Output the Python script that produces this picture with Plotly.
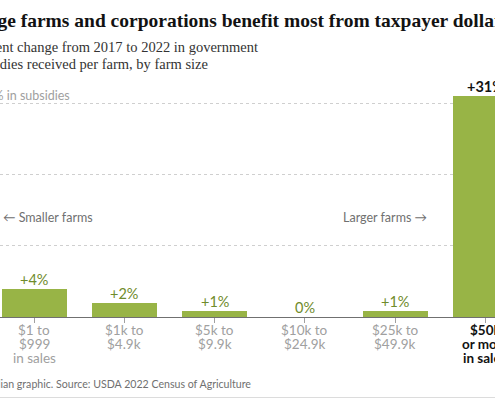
import plotly.graph_objects as go

# farm size groups (sales), change in subsidies per farm 2017 -> 2022 (%)
size_lines = [
    ["$1 to", "$999", "in sales"],
    ["$1k to", "$4.9k"],
    ["$5k to", "$9.9k"],
    ["$10k to", "$24.9k"],
    ["$25k to", "$49.9k"],
    ["$50k", "or more", "in sales"],
]
pct_change = [3.9, 1.9, 0.9, 0.0, 0.9, 31.0]
pct_labels = ["+4%", "+2%", "+1%", "0%", "+1%", "+31%"]
grid_vals = [10, 20, 30]

W, H = 495, 400
ML, MR, MT, MB = 0, 0, 85, 83
PH = H - MT - MB

GREEN = "#98b446"
GREEN_TXT = "#6f8b2b"
SANS = "Lato"
SERIF = "Liberation Serif"


def px(x):
    return (x - ML) / (W - ML - MR)


def py(y):
    return (H - MB - y) / PH


xs = list(range(len(pct_change)))

fig = go.Figure()
fig.add_trace(go.Bar(x=xs, y=pct_change, width=0.72, marker=dict(color=GREEN, line=dict(width=0)),
                     hoverinfo="skip", showlegend=False))

ann = []
# bar value labels
for i, (v, t) in enumerate(zip(pct_change, pct_labels)):
    last = i == len(pct_change) - 1
    ann.append(dict(x=i, y=v, xref="x", yref="y", text=("<b>%s</b>" % t) if last else t,
                    showarrow=False, yanchor="bottom", yshift=-1,
                    font=dict(family=SANS, size=14.5, color="#121212" if last else GREEN_TXT)))

# category labels under the axis
for i, lines in enumerate(size_lines):
    last = i == len(size_lines) - 1
    for j, line in enumerate(lines):
        ann.append(dict(x=i, y=py(330 + 14 * j), xref="x", yref="paper",
                        text=("<b>%s</b>" % line) if last else line, showarrow=False,
                        yanchor="middle",
                        font=dict(family=SANS, size=13.5, color="#121212" if last else "#a0a0a0")))

ann += [
    dict(x=px(-36), y=py(21), xref="paper", yref="paper", xanchor="left", yanchor="middle",
         text="<b>Large farms and corporations benefit most from taxpayer dollars</b>",
         showarrow=False, font=dict(family=SERIF, size=19.5, color="#121212")),
    dict(x=px(-32), y=py(47), xref="paper", yref="paper", xanchor="left", yanchor="middle",
         text="Percent change from 2017 to 2022 in government",
         showarrow=False, font=dict(family=SERIF, size=14.5, color="#333333")),
    dict(x=px(-32), y=py(64), xref="paper", yref="paper", xanchor="left", yanchor="middle",
         text="subsidies received per farm, by farm size",
         showarrow=False, font=dict(family=SERIF, size=14.5, color="#333333")),
    dict(x=px(-23), y=py(95), xref="paper", yref="paper", xanchor="left", yanchor="middle",
         text="30% in subsidies", showarrow=False,
         font=dict(family=SANS, size=12.5, color="#a0a0a0")),
    dict(x=px(1), y=py(217), xref="paper", yref="paper", xanchor="left", yanchor="middle",
         text="\u2190 Smaller farms", showarrow=False,
         font=dict(family=SANS, size=12.5, color="#707070")),
    dict(x=px(429), y=py(217), xref="paper", yref="paper", xanchor="right", yanchor="middle",
         text="Larger farms \u2192", showarrow=False,
         font=dict(family=SANS, size=12.5, color="#707070")),
    dict(x=px(-30), y=py(384), xref="paper", yref="paper", xanchor="left", yanchor="middle",
         text="Guardian graphic. Source: USDA 2022 Census of Agriculture", showarrow=False,
         font=dict(family=SANS, size=10.6, color="#707070")),
]

fig.update_layout(
    width=W, height=H,
    margin=dict(l=ML, r=MR, t=MT, b=MB),
    paper_bgcolor="white", plot_bgcolor="white",
    bargap=0,
    annotations=ann,
    shapes=[dict(type="line", xref="paper", yref="paper", x0=0, x1=1, y0=py(397.5), y1=py(397.5),
                 line=dict(color="#dcdcdc", width=1))],
    xaxis=dict(range=[-0.38, 5.108], tickvals=xs, ticktext=[""] * len(xs),
               showline=True, linecolor="#707070", linewidth=1,
               ticks="outside", ticklen=5, tickcolor="#a0a0a0", tickwidth=1,
               showgrid=False, zeroline=False, fixedrange=True),
    yaxis=dict(range=[0, PH / 7.12], tickvals=grid_vals, showticklabels=False,
               showgrid=True, gridcolor="#cfcfcf", griddash="dot", gridwidth=1,
               zeroline=False, fixedrange=True),
)

# page body has a default margin; drop it so the figure sits at the window's corner
fig.write_html("out.html", config={"displayModeBar": False},
               post_script="document.body.style.margin='0';document.body.style.overflow='hidden';")
